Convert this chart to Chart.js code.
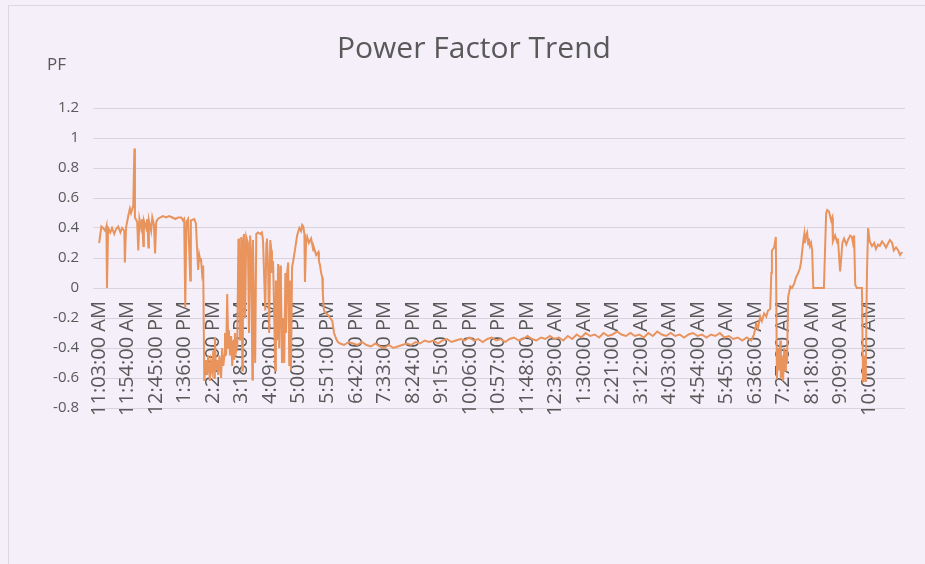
<!DOCTYPE html>
<html>
<head>
<meta charset="utf-8">
<script src="https://cdn.jsdelivr.net/npm/chart.js@4"></script>
<style>
  html, body { margin: 0; padding: 0; background: #f4eff9; }
  #wrap { position: relative; width: 925px; height: 564px; }
  #frame { position: absolute; left: 8px; top: 5px; right: -2px; bottom: -2px; border: 1px solid #ddd7e2; }
  canvas { position: absolute; left: 0; top: 0; }
</style>
</head>
<body>
<div id="wrap">
  <div id="frame"></div>
  <canvas id="pfChart" width="925" height="564"></canvas>
</div>
<script>
const palette = {
  line: "#e9935d",
  text: "#595959",
  grid: "#d9d3dd"
};

// category labels, one every 51 minutes from 11:03 AM
const tickLabels = [
  "11:03:00 AM", "11:54:00 AM", "12:45:00 PM", "1:36:00 PM", "2:27:00 PM",
  "3:18:00 PM", "4:09:00 PM", "5:00:00 PM", "5:51:00 PM", "6:42:00 PM",
  "7:33:00 PM", "8:24:00 PM", "9:15:00 PM", "10:06:00 PM", "10:57:00 PM",
  "11:48:00 PM", "12:39:00 AM", "1:30:00 AM", "2:21:00 AM", "3:12:00 AM",
  "4:03:00 AM", "4:54:00 AM", "5:45:00 AM", "6:36:00 AM", "7:27:00 AM",
  "8:18:00 AM", "9:09:00 AM", "10:00:00 AM"
];
const tickStep = 51;

// sample times, minutes after 11:03 AM
const sampleMinutes = [
  0, 4, 7, 11, 13, 14, 16, 20, 23, 27, 30, 34, 38, 41, 45, 46, 48, 52, 55, 57,
  61, 63, 64, 68, 70, 72, 75, 77, 79, 80, 84, 86, 88, 89, 93, 95, 98, 100, 102, 105,
  109, 114, 120, 125, 131, 136, 141, 147, 150, 152, 154, 156, 159, 163, 164, 170, 173, 177, 179, 181,
  182, 184, 186, 188, 191, 193, 195, 198, 200, 202, 204, 206, 207, 209, 211, 213, 215, 218, 220, 222,
  224, 225, 227, 229, 231, 232, 234, 236, 238, 240, 241, 243, 245, 247, 249, 250, 252, 254, 256, 257,
  259, 261, 263, 266, 268, 270, 272, 274, 275, 279, 281, 284, 288, 291, 293, 297, 299, 300, 302, 304,
  306, 308, 309, 311, 315, 316, 318, 320, 322, 324, 325, 327, 329, 331, 333, 334, 336, 338, 340, 342,
  343, 345, 347, 350, 354, 358, 361, 363, 365, 367, 368, 370, 372, 375, 379, 383, 384, 388, 392, 393,
  395, 397, 399, 400, 402, 406, 409, 413, 417, 420, 424, 427, 431,
  438, 446, 454, 462, 470, 478, 486, 494, 502, 510, 518, 526, 534, 542, 550, 558, 566, 574, 582, 590,
  598, 606, 614, 622, 630, 638, 646, 654, 662, 670, 678, 686, 694, 702, 710, 718, 726, 734, 742, 750,
  758, 766, 774, 782, 790, 798, 806, 814, 822, 830, 838, 846, 854, 862, 870, 878, 886, 894, 902, 910,
  918, 926, 934, 942, 950, 958, 966, 974, 982, 990, 998, 1006, 1014, 1022, 1030, 1038, 1046, 1054, 1062, 1070,
  1078, 1086, 1094, 1102, 1110, 1118, 1126, 1134, 1142, 1150, 1158, 1166, 1171,
  1175, 1178, 1182, 1185, 1189, 1193, 1196, 1200, 1202, 1203, 1207, 1210, 1212, 1214, 1216, 1218, 1219, 1221, 1223, 1225,
  1227, 1228, 1230, 1232, 1236, 1239, 1243, 1246, 1250, 1253, 1255, 1257, 1259, 1261, 1262, 1264, 1266, 1268, 1269, 1271,
  1273, 1275, 1277, 1282, 1289, 1296, 1300, 1302, 1305, 1309, 1311, 1312, 1316, 1320, 1321, 1323, 1325, 1327, 1329, 1332,
  1336, 1339, 1343, 1346, 1348, 1350, 1352, 1355, 1361, 1364, 1366, 1368, 1370, 1371, 1373, 1375, 1378, 1382, 1386, 1389,
  1393, 1396, 1400, 1404, 1407, 1411, 1414, 1418, 1421, 1425, 1429, 1432, 1436
];

// power factor read at each sample time
const pfValues = [
  0.30, 0.41, 0.40, 0.38, 0.41, 0.00, 0.40, 0.37, 0.40, 0.36, 0.39, 0.41, 0.37, 0.40, 0.38, 0.17, 0.40, 0.48, 0.53, 0.50,
  0.55, 0.93, 0.47, 0.44, 0.25, 0.46, 0.40, 0.46, 0.28, 0.45, 0.40, 0.46, 0.27, 0.45, 0.38, 0.47, 0.42, 0.23, 0.44, 0.46,
  0.47, 0.48, 0.47, 0.48, 0.47, 0.46, 0.47, 0.47, 0.45, 0.46, -0.13, 0.44, 0.46, 0.05, 0.45, 0.46, 0.43, 0.12, 0.22, 0.18,
  0.20, 0.10, 0.15, -0.62, -0.48, -0.58, -0.45, -0.62, -0.50, -0.55, -0.42, -0.60, -0.33, -0.55, -0.48, -0.58, -0.45, -0.60, -0.40, -0.52,
  -0.45, -0.30, -0.45, -0.04, -0.40, -0.28, -0.45, -0.32, -0.52, -0.35, -0.48, -0.30, -0.42, -0.38, 0.32, 0.33, -0.35, 0.34, -0.55, 0.30,
  0.36, -0.20, 0.34, 0.30, -0.30, 0.35, 0.20, -0.61, 0.32, -0.50, 0.36, 0.37, 0.36, 0.37, 0.32, -0.15, 0.30, 0.33, 0.15, -0.30,
  0.32, 0.25, 0.10, 0.18, -0.55, 0.05, -0.35, 0.16, -0.40, 0.15, 0.05, -0.50, -0.20, -0.50, 0.10, -0.30, 0.10, 0.17, -0.52, 0.05,
  -0.55, 0.14, 0.18, 0.25, 0.35, 0.40, 0.38, 0.42, 0.41, 0.36, 0.04, 0.30, 0.34, 0.30, 0.33, 0.25, 0.27, 0.22, 0.24, 0.18,
  0.15, 0.10, 0.07, -0.04, -0.15, -0.17, -0.18, -0.20, -0.22, -0.30, -0.34, -0.36, -0.37,
  -0.38, -0.36, -0.37, -0.38, -0.36, -0.38, -0.39, -0.37, -0.39, -0.40, -0.38, -0.40, -0.39, -0.38, -0.37, -0.38, -0.36, -0.37, -0.35, -0.36,
  -0.35, -0.37, -0.35, -0.34, -0.36, -0.35, -0.34, -0.35, -0.33, -0.35, -0.34, -0.36, -0.34, -0.33, -0.35, -0.34, -0.36, -0.34, -0.33, -0.35,
  -0.34, -0.32, -0.34, -0.35, -0.33, -0.34, -0.32, -0.34, -0.33, -0.35, -0.32, -0.34, -0.31, -0.33, -0.30, -0.32, -0.31, -0.33, -0.30, -0.32,
  -0.31, -0.29, -0.31, -0.32, -0.30, -0.32, -0.31, -0.33, -0.30, -0.32, -0.29, -0.31, -0.32, -0.30, -0.32, -0.31, -0.33, -0.31, -0.30, -0.32,
  -0.31, -0.33, -0.31, -0.32, -0.30, -0.33, -0.32, -0.34, -0.33, -0.35, -0.33, -0.35, -0.31,
  -0.24, -0.27, -0.19, -0.22, -0.17, -0.19, -0.15, -0.14, 0.10, 0.25, 0.27, 0.34, -0.61, -0.40, -0.55, -0.35, -0.60, -0.45, -0.62, -0.40,
  -0.55, -0.42, -0.50, -0.06, 0.01, 0.00, 0.03, 0.07, 0.10, 0.13, 0.17, 0.24, 0.31, 0.36, 0.30, 0.35, 0.37, 0.29, 0.33, 0.28,
  0.30, 0.25, 0.00, 0.00, 0.00, 0.00, 0.50, 0.52, 0.51, 0.45, 0.47, 0.31, 0.35, 0.30, 0.33, 0.22, 0.11, 0.20, 0.30, 0.33,
  0.29, 0.32, 0.35, 0.34, 0.30, 0.35, 0.02, 0.00, 0.00, 0.00, -0.63, -0.45, -0.62, -0.50, 0.10, 0.40, 0.31, 0.28, 0.30, 0.26,
  0.29, 0.28, 0.31, 0.29, 0.27, 0.30, 0.32, 0.30, 0.25, 0.27, 0.25, 0.22, 0.24
];

const yTitle = "PF";

const axisTitlePlugin = {
  id: "axisTitlePlugin",
  afterDraw(chart) {
    const { ctx, chartArea } = chart;
    ctx.save();
    ctx.font = "17px 'Open Sans'";
    ctx.fillStyle = palette.text;
    ctx.textAlign = "left";
    ctx.textBaseline = "middle";
    ctx.fillText(yTitle, chartArea.left - 46, chartArea.top - 43);
    ctx.restore();
  }
};

const points = sampleMinutes.map((m, i) => ({ x: m, y: pfValues[i] }));

new Chart(document.getElementById("pfChart"), {
  type: "line",
  data: {
    datasets: [
      {
        label: "PF",
        data: points,
        borderColor: palette.line,
        borderWidth: 2,
        pointRadius: 0,
        tension: 0,
        fill: false
      }
    ]
  },
  options: {
    responsive: false,
    animation: false,
    layout: {
      padding: { left: 43, right: 20, top: 0, bottom: 156 }
    },
    plugins: {
      legend: { display: false },
      tooltip: { enabled: false },
      title: {
        display: true,
        text: "Power Factor Trend",
        color: palette.text,
        font: { family: "'Open Sans'", size: 30, weight: "normal" },
        padding: { top: 31, bottom: 41 }
      }
    },
    scales: {
      x: {
        type: "linear",
        position: { y: 0 },
        min: -11,
        max: 1441,
        afterBuildTicks: (scale) => {
          scale.ticks = tickLabels.map((_, i) => ({ value: i * tickStep }));
        },
        grid: { display: false },
        border: { display: false },
        ticks: {
          autoSkip: false,
          minRotation: 90,
          maxRotation: 90,
          padding: 5,
          color: palette.text,
          font: { family: "'Open Sans'", size: 20 },
          callback: (value, index) => tickLabels[index]
        }
      },
      y: {
        min: -0.8,
        max: 1.2,
        afterFit: (scale) => {
          scale.width = 50;
        },
        grid: { color: palette.grid, drawTicks: false },
        border: { display: false },
        ticks: {
          stepSize: 0.2,
          padding: 14,
          color: palette.text,
          font: { family: "'Open Sans'", size: 15 },
          callback: (value) => Math.round(value * 10) / 10
        }
      }
    }
  },
  plugins: [axisTitlePlugin]
});
</script>
</body>
</html>
